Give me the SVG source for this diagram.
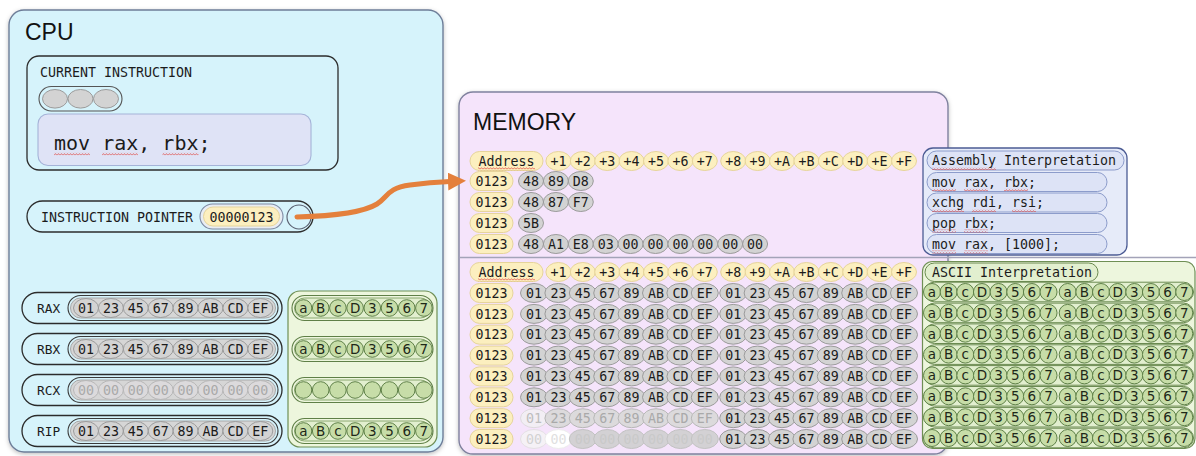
<svg xmlns="http://www.w3.org/2000/svg" xmlns:xlink="http://www.w3.org/1999/xlink" width="1196" height="456" viewBox="0 0 1196 456">
  <style>
    .mono { font-family: "DejaVu Sans Mono", "Liberation Mono", monospace; fill: #1b1b1b; }
    .sans { font-family: "Liberation Sans", Arial, sans-serif; fill: #111; }
    .t13 { font-size: 13.3px; }
    .c { text-anchor: middle; }
    .bead { fill: #d3d3d3; stroke: #9b9b9b; stroke-width: 1; }
    .bead-dim { fill: #dcdadc; stroke: #b7b7b7; stroke-width: 1; }
    .txt-dim { fill: #a9a9a9; }
    .yel { fill: #fcefbf; stroke: #e6d49a; stroke-width: 1; }
    .gc { fill: #c7dda8; stroke: #5f8148; stroke-width: 1; }
    .gl { font-family: "DejaVu Sans", "Liberation Sans", sans-serif; font-size: 13.5px; fill: #1e2818; text-anchor: middle; }
    .gpill { fill: #e2efcf; stroke: #6a8a50; stroke-width: 1; }
    .panel-green { fill: #edf6dd; stroke: #6f8f55; stroke-width: 1.2; }
    .outline { fill: none; stroke: #2c2c2c; stroke-width: 1.3; }
    .spell { fill: url(#squiggle); }
    .apill { fill: #dde3f6; stroke: #8c9ccb; stroke-width: 1; }
  </style>
  <defs>
    <filter id="shadow" x="-5%" y="-5%" width="110%" height="112%">
      <feDropShadow dx="0" dy="1.5" stdDeviation="2" flood-color="#000" flood-opacity="0.25"/>
    </filter>
    <pattern id="squiggle" width="3" height="3" patternUnits="userSpaceOnUse">
      <path d="M0,2.4 L1.5,0.6 L3,2.4" fill="none" stroke="#e0403a" stroke-width="0.7"/>
    </pattern>
    <marker id="arrow" viewBox="0 0 18 18" refX="2" refY="9" markerWidth="18" markerHeight="18" markerUnits="userSpaceOnUse" orient="auto">
      <path d="M0,0 L18,9 L0,18 z" fill="#e4803c"/>
    </marker>

    <!-- column header row: Address +1 .. +F -->
    <g id="hdr">
      <rect class="yel" x="470" y="-9.5" width="73" height="19" rx="9.5"/>
      <text class="mono t13 c" x="506.5" y="4.7">Address</text>
      <rect class="spell" x="478" y="6.2" width="57" height="3"/>
      <ellipse class="yel" cx="558.4" cy="0" rx="12.5" ry="9.5"/>
      <ellipse class="yel" cx="582.8" cy="0" rx="12.5" ry="9.5"/>
      <ellipse class="yel" cx="607.2" cy="0" rx="12.5" ry="9.5"/>
      <ellipse class="yel" cx="631.6" cy="0" rx="12.5" ry="9.5"/>
      <ellipse class="yel" cx="656" cy="0" rx="12.5" ry="9.5"/>
      <ellipse class="yel" cx="680.4" cy="0" rx="12.5" ry="9.5"/>
      <ellipse class="yel" cx="704.8" cy="0" rx="12.5" ry="9.5"/>
      <ellipse class="yel" cx="733.2" cy="0" rx="12.5" ry="9.5"/>
      <ellipse class="yel" cx="757.6" cy="0" rx="12.5" ry="9.5"/>
      <ellipse class="yel" cx="782" cy="0" rx="12.5" ry="9.5"/>
      <ellipse class="yel" cx="806.4" cy="0" rx="12.5" ry="9.5"/>
      <ellipse class="yel" cx="830.8" cy="0" rx="12.5" ry="9.5"/>
      <ellipse class="yel" cx="855.2" cy="0" rx="12.5" ry="9.5"/>
      <ellipse class="yel" cx="879.6" cy="0" rx="12.5" ry="9.5"/>
      <ellipse class="yel" cx="904" cy="0" rx="12.5" ry="9.5"/>
      <g class="mono t13 c">
        <text x="558.4" y="4.7">+1</text><text x="582.8" y="4.7">+2</text><text x="607.2" y="4.7">+3</text>
        <text x="631.6" y="4.7">+4</text><text x="656" y="4.7">+5</text><text x="680.4" y="4.7">+6</text>
        <text x="704.8" y="4.7">+7</text><text x="733.2" y="4.7">+8</text><text x="757.6" y="4.7">+9</text>
        <text x="782" y="4.7">+A</text><text x="806.4" y="4.7">+B</text><text x="830.8" y="4.7">+C</text>
        <text x="855.2" y="4.7">+D</text><text x="879.6" y="4.7">+E</text><text x="904" y="4.7">+F</text>
      </g>
    </g>

    <!-- address cell -->
    <g id="addr">
      <rect class="yel" x="470" y="-9.5" width="43" height="19" rx="9.5"/>
      <text class="mono t13 c" x="491.5" y="4.7">0123</text>
    </g>

    <!-- bytes +0..+7 of a data row -->
    <g id="bytes-lo">
      <ellipse class="bead" cx="534" cy="0" rx="13.5" ry="9.5"/>
      <ellipse class="bead" cx="558.4" cy="0" rx="13.5" ry="9.5"/>
      <ellipse class="bead" cx="582.8" cy="0" rx="13.5" ry="9.5"/>
      <ellipse class="bead" cx="607.2" cy="0" rx="13.5" ry="9.5"/>
      <ellipse class="bead" cx="631.6" cy="0" rx="13.5" ry="9.5"/>
      <ellipse class="bead" cx="656" cy="0" rx="13.5" ry="9.5"/>
      <ellipse class="bead" cx="680.4" cy="0" rx="13.5" ry="9.5"/>
      <ellipse class="bead" cx="704.8" cy="0" rx="13.5" ry="9.5"/>
      <g class="mono t13 c">
        <text x="534" y="4.7">01</text><text x="558.4" y="4.7">23</text><text x="582.8" y="4.7">45</text>
        <text x="607.2" y="4.7">67</text><text x="631.6" y="4.7">89</text><text x="656" y="4.7">AB</text>
        <text x="680.4" y="4.7">CD</text><text x="704.8" y="4.7">EF</text>
      </g>
    </g>

    <!-- bytes +8..+F of a data row -->
    <g id="bytes-hi">
      <ellipse class="bead" cx="733.2" cy="0" rx="13.5" ry="9.5"/>
      <ellipse class="bead" cx="757.6" cy="0" rx="13.5" ry="9.5"/>
      <ellipse class="bead" cx="782" cy="0" rx="13.5" ry="9.5"/>
      <ellipse class="bead" cx="806.4" cy="0" rx="13.5" ry="9.5"/>
      <ellipse class="bead" cx="830.8" cy="0" rx="13.5" ry="9.5"/>
      <ellipse class="bead" cx="855.2" cy="0" rx="13.5" ry="9.5"/>
      <ellipse class="bead" cx="879.6" cy="0" rx="13.5" ry="9.5"/>
      <ellipse class="bead" cx="904" cy="0" rx="13.5" ry="9.5"/>
      <g class="mono t13 c">
        <text x="733.2" y="4.7">01</text><text x="757.6" y="4.7">23</text><text x="782" y="4.7">45</text>
        <text x="806.4" y="4.7">67</text><text x="830.8" y="4.7">89</text><text x="855.2" y="4.7">AB</text>
        <text x="879.6" y="4.7">CD</text><text x="904" y="4.7">EF</text>
      </g>
    </g>

    <!-- one row of ASCII characters -->
    <g id="ascii-row">
      <rect class="gpill" x="924.5" y="-9.8" width="269" height="19.6" rx="9.8"/>
      <circle class="gc" cx="932" cy="0" r="8.5"/>
      <circle class="gc" cx="948.65" cy="0" r="8.5"/>
      <circle class="gc" cx="965.3" cy="0" r="8.5"/>
      <circle class="gc" cx="981.95" cy="0" r="8.5"/>
      <circle class="gc" cx="998.6" cy="0" r="8.5"/>
      <circle class="gc" cx="1015.25" cy="0" r="8.5"/>
      <circle class="gc" cx="1031.9" cy="0" r="8.5"/>
      <circle class="gc" cx="1048.55" cy="0" r="8.5"/>
      <circle class="gc" cx="1067.7" cy="0" r="8.5"/>
      <circle class="gc" cx="1084.35" cy="0" r="8.5"/>
      <circle class="gc" cx="1101" cy="0" r="8.5"/>
      <circle class="gc" cx="1117.65" cy="0" r="8.5"/>
      <circle class="gc" cx="1134.3" cy="0" r="8.5"/>
      <circle class="gc" cx="1150.95" cy="0" r="8.5"/>
      <circle class="gc" cx="1167.6" cy="0" r="8.5"/>
      <circle class="gc" cx="1184.25" cy="0" r="8.5"/>
      <text class="gl" x="932" y="4.8">a</text><text class="gl" x="948.65" y="4.8">B</text>
      <text class="gl" x="965.3" y="4.8">c</text><text class="gl" x="981.95" y="4.8">D</text>
      <text class="gl" x="998.6" y="4.8">3</text><text class="gl" x="1015.25" y="4.8">5</text>
      <text class="gl" x="1031.9" y="4.8">6</text><text class="gl" x="1048.55" y="4.8">7</text>
      <text class="gl" x="1067.7" y="4.8">a</text><text class="gl" x="1084.35" y="4.8">B</text>
      <text class="gl" x="1101" y="4.8">c</text><text class="gl" x="1117.65" y="4.8">D</text>
      <text class="gl" x="1134.3" y="4.8">3</text><text class="gl" x="1150.95" y="4.8">5</text>
      <text class="gl" x="1167.6" y="4.8">6</text><text class="gl" x="1184.25" y="4.8">7</text>
    </g>

    <!-- register byte strip (frame + beads) -->
    <g id="reg-frame">
      <rect x="22" y="-15.5" width="260" height="31" rx="15.5" class="outline"/>
      <rect x="68" y="-12.5" width="210" height="25" rx="12.5" fill="none" stroke="#3a3a3a" stroke-width="1.1"/>
      <rect x="70.5" y="-10" width="205" height="20" rx="10" fill="#d6d6d6" stroke="#a8a8a8" stroke-width="1"/>
    </g>
    <g id="reg-bytes">
      <ellipse class="bead" cx="86" cy="0" rx="12.5" ry="9.5"/>
      <ellipse class="bead" cx="110.9" cy="0" rx="12.5" ry="9.5"/>
      <ellipse class="bead" cx="135.8" cy="0" rx="12.5" ry="9.5"/>
      <ellipse class="bead" cx="160.7" cy="0" rx="12.5" ry="9.5"/>
      <ellipse class="bead" cx="185.6" cy="0" rx="12.5" ry="9.5"/>
      <ellipse class="bead" cx="210.5" cy="0" rx="12.5" ry="9.5"/>
      <ellipse class="bead" cx="235.4" cy="0" rx="12.5" ry="9.5"/>
      <ellipse class="bead" cx="260.3" cy="0" rx="12.5" ry="9.5"/>
      <g class="mono t13 c">
        <text x="86" y="4.7">01</text><text x="110.9" y="4.7">23</text><text x="135.8" y="4.7">45</text>
        <text x="160.7" y="4.7">67</text><text x="185.6" y="4.7">89</text><text x="210.5" y="4.7">AB</text>
        <text x="235.4" y="4.7">CD</text><text x="260.3" y="4.7">EF</text>
      </g>
    </g>

    <!-- register ASCII strip -->
    <g id="green-frame">
      <rect x="292" y="-12.5" width="141" height="25" rx="12.5" fill="none" stroke="#5f7f47" stroke-width="1.1"/>
      <rect x="294.5" y="-10" width="136" height="20" rx="10" fill="#e2efcf" stroke="#8aa870" stroke-width="1"/>
      <circle class="gc" cx="303.5" cy="0" r="8.3"/>
      <circle class="gc" cx="320.7" cy="0" r="8.3"/>
      <circle class="gc" cx="337.9" cy="0" r="8.3"/>
      <circle class="gc" cx="355.1" cy="0" r="8.3"/>
      <circle class="gc" cx="372.3" cy="0" r="8.3"/>
      <circle class="gc" cx="389.5" cy="0" r="8.3"/>
      <circle class="gc" cx="406.7" cy="0" r="8.3"/>
      <circle class="gc" cx="423.9" cy="0" r="8.3"/>
    </g>
    <g id="green-chars">
      <text class="gl" x="303.5" y="4.8">a</text><text class="gl" x="320.7" y="4.8">B</text>
      <text class="gl" x="337.9" y="4.8">c</text><text class="gl" x="355.1" y="4.8">D</text>
      <text class="gl" x="372.3" y="4.8">3</text><text class="gl" x="389.5" y="4.8">5</text>
      <text class="gl" x="406.7" y="4.8">6</text><text class="gl" x="423.9" y="4.8">7</text>
    </g>
  </defs>

  <rect width="1196" height="456" fill="#ffffff"/>

  <!-- ================= CPU ================= -->
  <g id="cpu">
    <rect x="9" y="10" width="434" height="442" rx="15" fill="#d6f3fb" stroke="#6d7d98" stroke-width="1.4" filter="url(#shadow)"/>
    <text class="sans" x="25" y="40" font-size="23">CPU</text>
  </g>

  <g id="current-instruction">
    <rect x="27" y="56" width="311" height="114" rx="12" class="outline"/>
    <text class="mono t13" x="40" y="77">CURRENT INSTRUCTION</text>
    <rect x="39" y="86.5" width="83" height="24.5" rx="12.25" fill="none" stroke="#555" stroke-width="1.1"/>
    <ellipse class="bead" cx="55" cy="98.8" rx="12.5" ry="9.3"/>
    <ellipse class="bead" cx="80.5" cy="98.8" rx="12.5" ry="9.3"/>
    <ellipse class="bead" cx="106" cy="98.8" rx="12.5" ry="9.3"/>
    <rect x="38" y="114" width="273" height="51.5" rx="10" fill="#dfe3f6" stroke="#a5b3d8" stroke-width="1.1"/>
    <text class="mono" x="54" y="149.5" font-size="20">mov rax, rbx;</text>
    <rect class="spell" x="54" y="152.5" width="36" height="3"/>
    <rect class="spell" x="102" y="152.5" width="36" height="3"/>
    <rect class="spell" x="162.5" y="152.5" width="36" height="3"/>
  </g>

  <g id="instruction-pointer">
    <rect x="27" y="201" width="286" height="31" rx="15.5" class="outline"/>
    <text class="mono t13" x="41" y="221.5">INSTRUCTION POINTER</text>
    <rect x="200" y="204" width="83" height="25" rx="12.5" fill="#e8ecf2" stroke="#7d8aa3" stroke-width="1.1"/>
    <rect x="203.5" y="207" width="76" height="19" rx="9.5" class="yel"/>
    <text class="mono t13 c" x="241.5" y="221.5">00000123</text>
    <circle cx="299" cy="217" r="12" fill="none" stroke="#5a6070" stroke-width="1.1"/>
  </g>

  <g id="register-rax" transform="translate(0,308)">
    <use xlink:href="#reg-frame"/>
    <text class="mono" x="37" y="4.6" font-size="12.8">RAX</text>
    <use xlink:href="#reg-bytes"/>
  </g>
  <g id="register-rbx" transform="translate(0,349)">
    <use xlink:href="#reg-frame"/>
    <text class="mono" x="37" y="4.6" font-size="12.8">RBX</text>
    <use xlink:href="#reg-bytes"/>
  </g>
  <g id="register-rcx" transform="translate(0,390)">
    <use xlink:href="#reg-frame"/>
    <text class="mono" x="37" y="4.6" font-size="12.8">RCX</text>
    <ellipse class="bead-dim" cx="86" cy="0" rx="12.5" ry="9.5"/>
    <ellipse class="bead-dim" cx="110.9" cy="0" rx="12.5" ry="9.5"/>
    <ellipse class="bead-dim" cx="135.8" cy="0" rx="12.5" ry="9.5"/>
    <ellipse class="bead-dim" cx="160.7" cy="0" rx="12.5" ry="9.5"/>
    <ellipse class="bead-dim" cx="185.6" cy="0" rx="12.5" ry="9.5"/>
    <ellipse class="bead-dim" cx="210.5" cy="0" rx="12.5" ry="9.5"/>
    <ellipse class="bead-dim" cx="235.4" cy="0" rx="12.5" ry="9.5"/>
    <ellipse class="bead-dim" cx="260.3" cy="0" rx="12.5" ry="9.5"/>
    <g class="mono t13 c">
      <text x="86" y="4.7" class="txt-dim">00</text><text x="110.9" y="4.7" class="txt-dim">00</text>
      <text x="135.8" y="4.7" class="txt-dim">00</text><text x="160.7" y="4.7" class="txt-dim">00</text>
      <text x="185.6" y="4.7" class="txt-dim">00</text><text x="210.5" y="4.7" class="txt-dim">00</text>
      <text x="235.4" y="4.7" class="txt-dim">00</text><text x="260.3" y="4.7" class="txt-dim">00</text>
    </g>
  </g>
  <g id="register-rip" transform="translate(0,431)">
    <use xlink:href="#reg-frame"/>
    <text class="mono" x="37" y="4.6" font-size="12.8">RIP</text>
    <use xlink:href="#reg-bytes"/>
  </g>

  <g id="register-ascii">
    <rect class="panel-green" x="288" y="291" width="149" height="156" rx="12"/>
    <g transform="translate(0,308)"><use xlink:href="#green-frame"/><use xlink:href="#green-chars"/></g>
    <g transform="translate(0,349)"><use xlink:href="#green-frame"/><use xlink:href="#green-chars"/></g>
    <g transform="translate(0,390)"><use xlink:href="#green-frame"/></g>
    <g transform="translate(0,431)"><use xlink:href="#green-frame"/><use xlink:href="#green-chars"/></g>
  </g>

  <!-- ================= MEMORY ================= -->
  <g id="memory">
    <rect x="459" y="92" width="489" height="362" rx="14" fill="#f5e4fb" stroke="#7f819e" stroke-width="1.4" filter="url(#shadow)"/>
    <text class="sans" x="473" y="130" font-size="23">MEMORY</text>
    <line x1="460" y1="257.5" x2="1196" y2="257.5" stroke="#a3a3b8" stroke-width="1.3"/>
  </g>

  <g id="memory-code">
    <use xlink:href="#hdr" transform="translate(0,161)"/>
    <g transform="translate(0,181)">
      <use xlink:href="#addr"/>
      <ellipse class="bead" cx="531" cy="0" rx="12.5" ry="9.5"/>
      <ellipse class="bead" cx="555.9" cy="0" rx="12.5" ry="9.5"/>
      <ellipse class="bead" cx="580.8" cy="0" rx="12.5" ry="9.5"/>
      <g class="mono t13 c"><text x="531" y="4.7">48</text><text x="555.9" y="4.7">89</text><text x="580.8" y="4.7">D8</text></g>
    </g>
    <g transform="translate(0,202)">
      <use xlink:href="#addr"/>
      <ellipse class="bead" cx="531" cy="0" rx="12.5" ry="9.5"/>
      <ellipse class="bead" cx="555.9" cy="0" rx="12.5" ry="9.5"/>
      <ellipse class="bead" cx="580.8" cy="0" rx="12.5" ry="9.5"/>
      <g class="mono t13 c"><text x="531" y="4.7">48</text><text x="555.9" y="4.7">87</text><text x="580.8" y="4.7">F7</text></g>
    </g>
    <g transform="translate(0,223)">
      <use xlink:href="#addr"/>
      <ellipse class="bead" cx="531" cy="0" rx="12.5" ry="9.5"/>
      <g class="mono t13 c"><text x="531" y="4.7">5B</text></g>
    </g>
    <g transform="translate(0,244)">
      <use xlink:href="#addr"/>
      <ellipse class="bead" cx="531" cy="0" rx="12.5" ry="9.5"/>
      <ellipse class="bead" cx="555.9" cy="0" rx="12.5" ry="9.5"/>
      <ellipse class="bead" cx="580.8" cy="0" rx="12.5" ry="9.5"/>
      <ellipse class="bead" cx="605.7" cy="0" rx="12.5" ry="9.5"/>
      <ellipse class="bead" cx="630.6" cy="0" rx="12.5" ry="9.5"/>
      <ellipse class="bead" cx="655.5" cy="0" rx="12.5" ry="9.5"/>
      <ellipse class="bead" cx="680.4" cy="0" rx="12.5" ry="9.5"/>
      <ellipse class="bead" cx="705.3" cy="0" rx="12.5" ry="9.5"/>
      <ellipse class="bead" cx="730.2" cy="0" rx="12.5" ry="9.5"/>
      <ellipse class="bead" cx="755.1" cy="0" rx="12.5" ry="9.5"/>
      <g class="mono t13 c">
        <text x="531" y="4.7">48</text><text x="555.9" y="4.7">A1</text><text x="580.8" y="4.7">E8</text>
        <text x="605.7" y="4.7">03</text><text x="630.6" y="4.7">00</text><text x="655.5" y="4.7">00</text>
        <text x="680.4" y="4.7">00</text><text x="705.3" y="4.7">00</text><text x="730.2" y="4.7">00</text>
        <text x="755.1" y="4.7">00</text>
      </g>
    </g>
  </g>

  <g id="assembly-interpretation">
    <rect x="923" y="148" width="204" height="107" rx="10" fill="#e6ebf9" stroke="#4c5c94" stroke-width="1.3"/>
    <rect class="apill" x="927" y="151" width="197" height="19" rx="9.5"/>
    <text class="mono t13" x="932" y="165">Assembly Interpretation</text>
    <rect class="spell" x="932" y="167" width="64" height="3"/>
    <rect class="apill" x="927" y="172.5" width="180" height="19" rx="9.5"/>
    <rect class="apill" x="927" y="193" width="180" height="19" rx="9.5"/>
    <rect class="apill" x="927" y="213.5" width="180" height="19" rx="9.5"/>
    <rect class="apill" x="927" y="234.5" width="180" height="19" rx="9.5"/>
    <text class="mono t13" x="932" y="186.7">mov rax, rbx;</text>
    <text class="mono t13" x="932" y="207.2">xchg rdi, rsi;</text>
    <text class="mono t13" x="932" y="227.7">pop rbx;</text>
    <text class="mono t13" x="932" y="248.7">mov rax, [1000];</text>
    <rect class="spell" x="932" y="188.5" width="24" height="3"/>
    <rect class="spell" x="964" y="188.5" width="24" height="3"/>
    <rect class="spell" x="1004" y="188.5" width="24" height="3"/>
    <rect class="spell" x="932" y="209" width="32" height="3"/>
    <rect class="spell" x="972" y="209" width="24" height="3"/>
    <rect class="spell" x="1012" y="209" width="24" height="3"/>
    <rect class="spell" x="932" y="229.5" width="24" height="3"/>
    <rect class="spell" x="964" y="229.5" width="24" height="3"/>
    <rect class="spell" x="932" y="250.5" width="24" height="3"/>
    <rect class="spell" x="964" y="250.5" width="24" height="3"/>
  </g>

  <g id="memory-data">
    <use xlink:href="#hdr" transform="translate(0,272)"/>
    <g transform="translate(0,293)"><use xlink:href="#addr"/><use xlink:href="#bytes-lo"/><use xlink:href="#bytes-hi"/></g>
    <g transform="translate(0,313.9)"><use xlink:href="#addr"/><use xlink:href="#bytes-lo"/><use xlink:href="#bytes-hi"/></g>
    <g transform="translate(0,334.7)"><use xlink:href="#addr"/><use xlink:href="#bytes-lo"/><use xlink:href="#bytes-hi"/></g>
    <g transform="translate(0,355.6)"><use xlink:href="#addr"/><use xlink:href="#bytes-lo"/><use xlink:href="#bytes-hi"/></g>
    <g transform="translate(0,376.4)"><use xlink:href="#addr"/><use xlink:href="#bytes-lo"/><use xlink:href="#bytes-hi"/></g>
    <g transform="translate(0,397.3)"><use xlink:href="#addr"/><use xlink:href="#bytes-lo"/><use xlink:href="#bytes-hi"/></g>
    <!-- partially written row -->
    <g transform="translate(0,418.2)">
      <use xlink:href="#addr"/>
      <ellipse cx="534" cy="0" rx="13.5" ry="9.5" fill="#f2eef4" stroke="#dedade"/>
      <ellipse class="bead-dim" cx="558.4" cy="0" rx="13.5" ry="9.5"/>
      <ellipse class="bead-dim" cx="582.8" cy="0" rx="13.5" ry="9.5"/>
      <ellipse class="bead-dim" cx="607.2" cy="0" rx="13.5" ry="9.5"/>
      <ellipse class="bead-dim" cx="631.6" cy="0" rx="13.5" ry="9.5"/>
      <ellipse class="bead-dim" cx="656" cy="0" rx="13.5" ry="9.5"/>
      <ellipse class="bead-dim" cx="680.4" cy="0" rx="13.5" ry="9.5"/>
      <ellipse class="bead-dim" cx="704.8" cy="0" rx="13.5" ry="9.5"/>
      <g class="mono t13 c">
        <text x="534" y="4.7" style="fill:#bdbdbd">01</text>
        <text x="558.4" y="4.7" class="txt-dim">23</text><text x="582.8" y="4.7" class="txt-dim">45</text>
        <text x="607.2" y="4.7" class="txt-dim">67</text><text x="631.6" y="4.7" class="txt-dim">89</text>
        <text x="656" y="4.7" class="txt-dim">AB</text><text x="680.4" y="4.7" class="txt-dim">CD</text>
        <text x="704.8" y="4.7" class="txt-dim">EF</text>
      </g>
      <use xlink:href="#bytes-hi"/>
    </g>
    <!-- cleared row -->
    <g transform="translate(0,439)">
      <use xlink:href="#addr"/>
      <ellipse cx="534" cy="0" rx="13.5" ry="9.5" fill="#f5f1f6" stroke="#e4e0e4"/>
      <ellipse cx="558.4" cy="0" rx="13.5" ry="9.5" fill="#ffffff" stroke="#ececec"/>
      <ellipse cx="582.8" cy="0" rx="13.5" ry="9.5" fill="#d3d1d4" stroke="#c2c2c2"/>
      <ellipse cx="607.2" cy="0" rx="13.5" ry="9.5" fill="#d3d1d4" stroke="#c2c2c2"/>
      <ellipse cx="631.6" cy="0" rx="13.5" ry="9.5" fill="#d3d1d4" stroke="#c2c2c2"/>
      <ellipse cx="656" cy="0" rx="13.5" ry="9.5" fill="#d3d1d4" stroke="#c2c2c2"/>
      <ellipse cx="680.4" cy="0" rx="13.5" ry="9.5" fill="#d3d1d4" stroke="#c2c2c2"/>
      <ellipse cx="704.8" cy="0" rx="13.5" ry="9.5" fill="#d3d1d4" stroke="#c2c2c2"/>
      <g class="mono t13 c">
        <text x="534" y="4.7" style="fill:#d2d2d2">00</text><text x="558.4" y="4.7" style="fill:#e0e0e0">00</text>
        <text x="582.8" y="4.7" style="fill:#c9c9c9">00</text><text x="607.2" y="4.7" style="fill:#c9c9c9">00</text>
        <text x="631.6" y="4.7" style="fill:#c9c9c9">00</text><text x="656" y="4.7" style="fill:#c9c9c9">00</text>
        <text x="680.4" y="4.7" style="fill:#c9c9c9">00</text><text x="704.8" y="4.7" style="fill:#c9c9c9">00</text>
      </g>
      <use xlink:href="#bytes-hi"/>
    </g>
  </g>

  <g id="ascii-interpretation">
    <rect class="panel-green" x="922.5" y="261.5" width="272.5" height="187" rx="10"/>
    <rect class="gpill" x="925" y="263" width="173" height="18.5" rx="9.25"/>
    <text class="mono t13" x="932" y="277">ASCII Interpretation</text>
    <use xlink:href="#ascii-row" transform="translate(0,292)"/>
    <use xlink:href="#ascii-row" transform="translate(0,312.9)"/>
    <use xlink:href="#ascii-row" transform="translate(0,333.7)"/>
    <use xlink:href="#ascii-row" transform="translate(0,354.6)"/>
    <use xlink:href="#ascii-row" transform="translate(0,375.4)"/>
    <use xlink:href="#ascii-row" transform="translate(0,396.3)"/>
    <use xlink:href="#ascii-row" transform="translate(0,417.2)"/>
    <use xlink:href="#ascii-row" transform="translate(0,438)"/>
  </g>

  <!-- ================= connectors ================= -->
  <g id="connectors">
    <path d="M297,217 C335,216 364,212 377,204 C388,197 387,188 410,185 C425,183 438,182 450,181.5" fill="none" stroke="#e4803c" stroke-width="5" stroke-linecap="round" marker-end="url(#arrow)"/>
  </g>
</svg>
